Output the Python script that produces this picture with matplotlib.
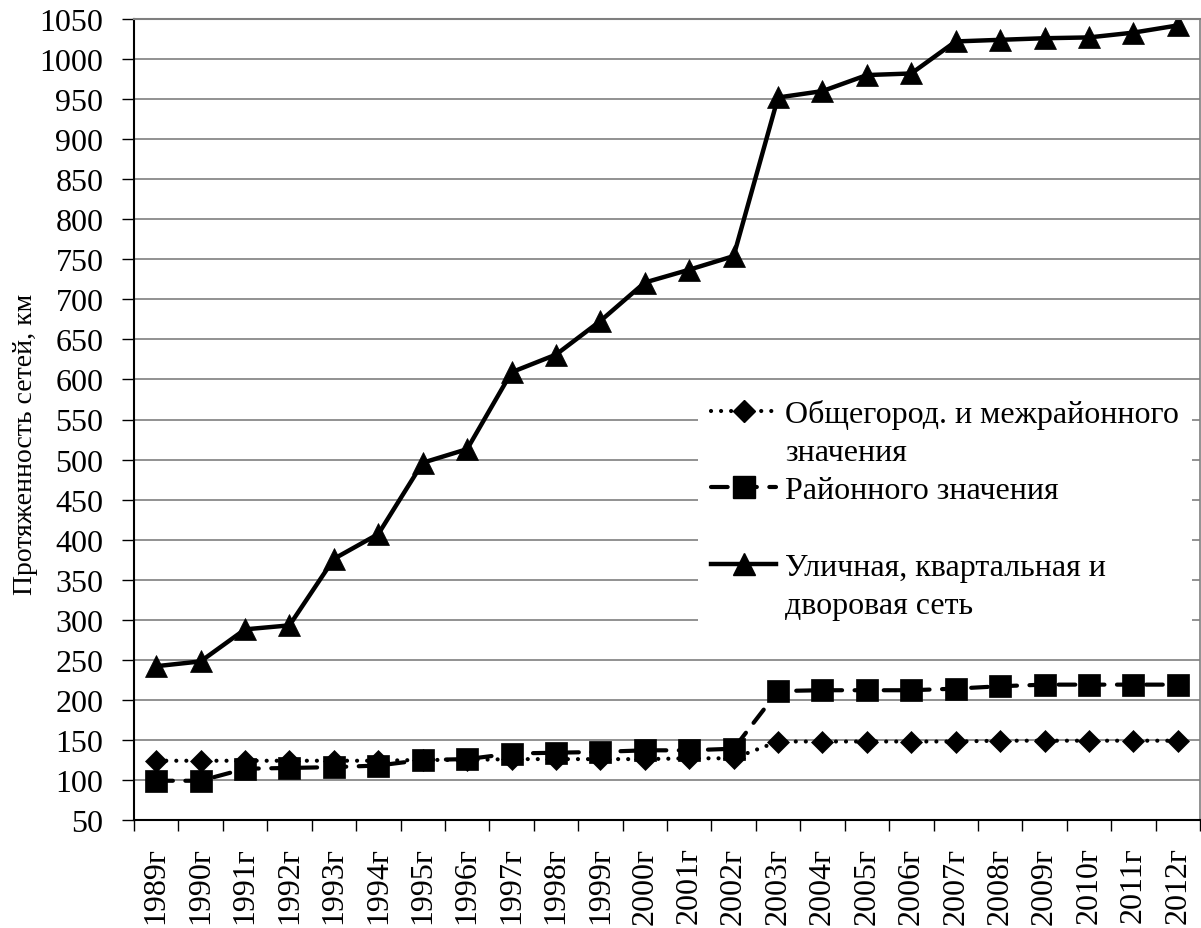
import matplotlib
matplotlib.use('Agg')
import numpy as np
import matplotlib.pyplot as plt
from matplotlib.lines import Line2D

plt.rcParams['font.family'] = ['Liberation Serif', 'DejaVu Serif']

years = ['1989г', '1990г', '1991г', '1992г', '1993г', '1994г', '1995г', '1996г',
         '1997г', '1998г', '1999г', '2000г', '2001г', '2002г', '2003г', '2004г',
         '2005г', '2006г', '2007г', '2008г', '2009г', '2010г', '2011г', '2012г']
# общегородского и межрайонного значения
city = [124, 124, 124, 124, 124, 124, 125, 125, 126, 126, 126, 126, 127, 127,
        148, 148, 148, 148, 148, 149, 149, 149, 149, 149]
# районного значения
district = [99, 99, 114, 115, 116, 118, 125, 126, 133, 134, 135, 137, 137, 139,
            211, 212, 212, 212, 214, 217, 219, 219, 219, 219]
# уличная, квартальная и дворовая сеть
street = [242, 248, 288, 293, 376, 407, 496, 513, 609, 631, 673, 721, 737, 754,
          952, 960, 980, 982, 1022, 1024, 1026, 1027, 1033, 1042]

fs = 23
x = np.arange(len(years))

fig = plt.figure(figsize=(12.01, 9.29), dpi=100)
ax = fig.add_axes([134/1201, 1 - 821/929, (1200 - 134)/1201, (821 - 20)/929])

ax.plot(x, city, color='black', lw=3, linestyle=(0, (0.01, 2.4)),
        dash_capstyle='round', marker='D', ms=11.5, mew=0.5)
ax.plot(x, district, color='black', lw=3, linestyle=(0, (4, 3)),
        dash_capstyle='round', marker='s', ms=16, mew=0.5)
ax.plot(x, street, color='black', lw=3.2, marker='^', ms=16, mew=0.5)

ax.set_xlim(-0.5, len(years) - 0.5)
ax.set_ylim(50, 1050)
ax.set_yticks(np.arange(50, 1051, 50))
ax.yaxis.grid(True, color='#7f7f7f', lw=1.2)
ax.set_axisbelow(True)

ax.set_xticks(x)
ax.set_xticklabels(years, rotation=90, fontsize=fs)
ax.set_xticks(np.arange(-0.5, len(years)), minor=True)
ax.tick_params(axis='x', which='major', length=0, pad=19)
ax.tick_params(axis='x', which='minor', length=8, width=1, color='black')
ax.tick_params(axis='y', length=9, width=1, pad=13, labelsize=fs)

ax.spines['left'].set_linewidth(1.5)
ax.spines['bottom'].set_linewidth(1.5)
ax.spines['top'].set_color('#7f7f7f')
ax.spines['top'].set_linewidth(1.5)
ax.spines['right'].set_color('#7f7f7f')
ax.spines['right'].set_linewidth(1.2)

ax.set_ylabel('Протяженность сетей, км', fontsize=20)
ax.yaxis.set_label_coords(-0.09, 0.47)

blank = Line2D([], [], color='none')
h1 = Line2D([], [], color='black', lw=3, linestyle=(0, (0.01, 2.4)),
            dash_capstyle='round', marker='D', ms=11.5)
h2 = Line2D([], [], color='black', lw=3, linestyle=(0, (4, 3)),
            dash_capstyle='round', marker='s', ms=16)
h3 = Line2D([], [], color='black', lw=3.2, marker='^', ms=16)
handles = [h1, blank, h2, blank, h3, blank]
labels = ['Общегород. и межрайонного', 'значения', 'Районного значения', ' ',
          'Уличная, квартальная и', 'дворовая сеть']
leg = ax.legend(handles, labels, loc='upper left',
                bbox_to_anchor=((698 - 134)/1066, (821 - 387)/801),
                fontsize=fs, frameon=True, facecolor='white', edgecolor='none',
                framealpha=1, fancybox=False, handlelength=2.05,
                handletextpad=0.28, labelspacing=0.28, borderpad=0.4,
                borderaxespad=0)

fig.savefig('out.png', dpi=100)
